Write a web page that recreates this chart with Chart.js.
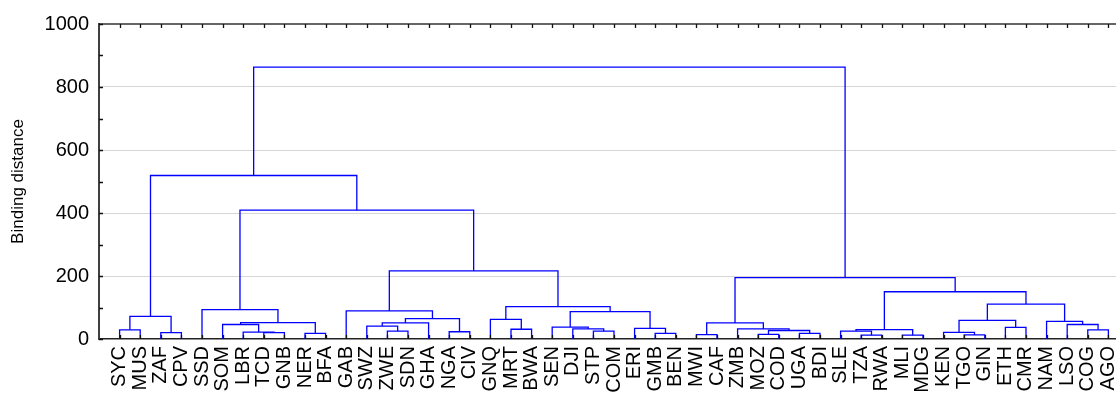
<!DOCTYPE html>
<html>
<head>
<meta charset="utf-8">
<script src="https://cdn.jsdelivr.net/npm/chart.js@4.4.1/dist/chart.umd.min.js"></script>
<style>
  html, body { margin: 0; padding: 0; background: #fff; overflow: hidden; }
</style>
</head>
<body>
<canvas id="chartDendro" width="1116" height="394"></canvas>
<script>
// leaf order as drawn, left to right
const leaves = ['SYC', 'MUS', 'ZAF', 'CPV', 'SSD', 'SOM', 'LBR', 'TCD', 'GNB', 'NER', 'BFA',
    'GAB', 'SWZ', 'ZWE', 'SDN', 'GHA', 'NGA', 'CIV', 'GNQ', 'MRT', 'BWA', 'SEN', 'DJI', 'STP',
    'COM', 'ERI', 'GMB', 'BEN', 'MWI', 'CAF', 'ZMB', 'MOZ', 'COD', 'UGA', 'BDI', 'SLE', 'TZA',
    'RWA', 'MLI', 'MDG', 'KEN', 'TGO', 'GIN', 'ETH', 'CMR', 'NAM', 'LSO', 'COG', 'AGO'];

// [left, right, binding distance] - a string is a leaf, a number is an earlier merge
const merges = [
    ['SYC', 'MUS', 29], ['ZAF', 'CPV', 20], [0, 1, 72],
    ['TCD', 'GNB', 20], ['LBR', 3, 22], ['SOM', 4, 46], ['NER', 'BFA', 18], [5, 6, 52], ['SSD', 7, 93],
    ['ZWE', 'SDN', 25], ['SWZ', 9, 41], [10, 'GHA', 51], ['NGA', 'CIV', 23], [11, 12, 65], ['GAB', 13, 89],
    ['MRT', 'BWA', 31], ['GNQ', 15, 62],
    ['STP', 'COM', 25], ['DJI', 17, 32], ['SEN', 18, 38], ['GMB', 'BEN', 18], ['ERI', 20, 34], [19, 21, 87],
    [16, 22, 103], [14, 23, 216], [8, 24, 409], [2, 25, 519],
    ['MWI', 'CAF', 14], ['MOZ', 'COD', 15], ['UGA', 'BDI', 18], [28, 29, 27], ['ZMB', 30, 32], [27, 31, 51],
    ['TZA', 'RWA', 12], ['SLE', 33, 25], ['MLI', 'MDG', 12], [34, 35, 30],
    ['TGO', 'GIN', 13], ['KEN', 37, 21], ['ETH', 'CMR', 37], [38, 39, 59],
    ['COG', 'AGO', 29], ['LSO', 41, 46], ['NAM', 42, 56], [40, 43, 111],
    [36, 44, 150], [32, 45, 195], [26, 46, 863]
];

const yTicks = [0, 200, 400, 600, 800, 1000];
const yMinorTicks = [100, 300, 500, 700, 900];

// each merge becomes one U-shaped link; a node sits midway between its children
const nodes = [];
function nodeOf(ref) {
    if (typeof ref === 'string') return { x: leaves.indexOf(ref) + 1, h: 0 };
    return nodes[ref];
}
const links = merges.map((m, i) => {
    const a = nodeOf(m[0]);
    const b = nodeOf(m[1]);
    nodes[i] = { x: (a.x + b.x) / 2, h: m[2] };
    return [
        { x: a.x, y: a.h }, { x: a.x, y: m[2] },
        { x: b.x, y: m[2] }, { x: b.x, y: b.h }
    ];
});

const FONT = '"Liberation Sans", Arial, sans-serif';

// top border plus inward tick marks, like the original plot frame
const framePlugin = {
    id: 'frame',
    afterDatasetsDraw(chart) {
        const { ctx, chartArea: a, scales: { x, y } } = chart;
        ctx.save();
        ctx.strokeStyle = '#333';
        ctx.lineWidth = 1.5;
        ctx.beginPath();
        ctx.moveTo(a.left, a.top);
        ctx.lineTo(a.right, a.top);
        ctx.stroke();

        ctx.lineWidth = 1.3;
        ctx.strokeStyle = '#111';
        ctx.beginPath();
        leaves.forEach((_, i) => {
            const px = Math.round(x.getPixelForValue(i + 1)) + 0.5;
            ctx.moveTo(px, a.top);
            ctx.lineTo(px, a.top + 4);
            ctx.moveTo(px, a.bottom);
            ctx.lineTo(px, a.bottom - 4);
        });
        yTicks.concat(yMinorTicks).forEach(v => {
            const py = Math.round(y.getPixelForValue(v)) + 0.5;
            ctx.moveTo(a.left, py);
            ctx.lineTo(a.left + 4, py);
        });
        ctx.stroke();
        ctx.restore();
    }
};

new Chart(document.getElementById('chartDendro'), {
    type: 'scatter',
    data: {
        datasets: links.map(pts => ({
            data: pts,
            showLine: true,
            fill: false,
            borderColor: '#0000ff',
            borderWidth: 1.3,
            pointRadius: 0,
            pointHoverRadius: 0,
            tension: 0
        }))
    },
    options: {
        responsive: false,
        animation: false,
        layout: { padding: { top: 24, right: 0, bottom: 0, left: 0 } },
        plugins: {
            legend: { display: false },
            tooltip: { enabled: false }
        },
        scales: {
            x: {
                type: 'linear',
                min: 0,
                max: 49.37,
                afterBuildTicks: scale => {
                    scale.ticks = leaves.map((_, i) => ({ value: i + 1 }));
                },
                afterFit: scale => {
                    // the plot runs off the right edge in the original, so no label padding
                    scale.height = 55;
                    scale.paddingLeft = 0;
                    scale.paddingRight = 0;
                },
                ticks: {
                    autoSkip: false,
                    minRotation: 90,
                    maxRotation: 90,
                    padding: 7,
                    color: '#000',
                    font: { family: FONT, size: 20 },
                    callback: v => leaves[v - 1] || ''
                },
                grid: { display: false, drawTicks: false },
                border: { display: true, color: '#222', width: 1.5 }
            },
            y: {
                min: 0,
                max: 1000,
                afterBuildTicks: scale => {
                    scale.ticks = yTicks.map(v => ({ value: v }));
                },
                afterFit: scale => {
                    scale.width = 99;
                    scale.paddingTop = 0;
                    scale.paddingBottom = 0;
                },
                ticks: {
                    padding: 10,
                    color: '#000',
                    font: { family: FONT, size: 20 },
                    callback: v => String(v)
                },
                grid: {
                    drawTicks: false,
                    color: ctx => (ctx.tick && ctx.tick.value > 0 && ctx.tick.value < 1000) ? '#d6d6d6' : 'rgba(0,0,0,0)'
                },
                border: { display: true, color: '#404040', width: 2 },
                title: {
                    display: true,
                    text: 'Binding distance',
                    color: '#000',
                    font: { family: FONT, size: 17 },
                    padding: { top: 8, bottom: 0 }
                }
            }
        }
    },
    plugins: [framePlugin]
});
</script>
</body>
</html>
